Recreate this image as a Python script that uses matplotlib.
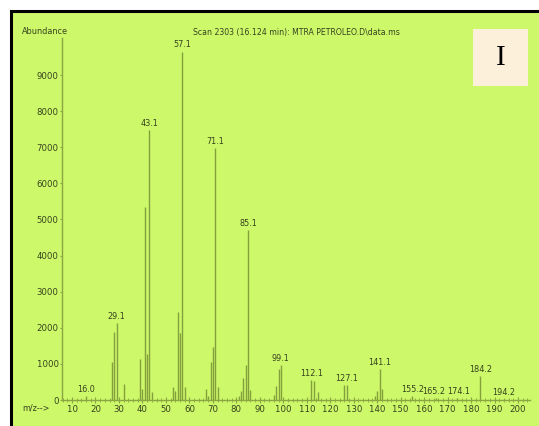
import matplotlib
matplotlib.use("Agg")
import matplotlib.pyplot as plt
from matplotlib import font_manager
from matplotlib.font_manager import FontProperties
from matplotlib.patches import Rectangle
from matplotlib.ticker import MultipleLocator

# Mass spectrum, scan 2303
mz = [16, 27, 28, 29, 32, 39, 40, 41, 42, 43, 44,
      53, 54, 55, 56, 57, 58, 67, 68, 69, 70, 71, 72,
      81, 82, 83, 84, 85, 86, 96, 97, 98, 99,
      112, 113, 115, 126, 127, 139, 140, 141, 142,
      155, 165, 174, 184, 194]
abundance = [100, 1050, 1880, 2130, 440, 1130, 300, 5350, 1270, 7480, 220,
             360, 250, 2450, 1860, 9650, 370, 310, 120, 1060, 1460, 6980, 360,
             120, 250, 600, 970, 4710, 280, 150, 380, 850, 980,
             560, 540, 230, 420, 420, 120, 250, 850, 300,
             120, 50, 50, 660, 20]

peak_labels = ["16.0", "29.1", "43.1", "57.1", "71.1", "85.1", "99.1",
               "112.1", "127.1", "141.1", "155.2", "165.2", "174.1",
               "184.2", "194.2"]
label_mz = [16, 29, 43, 57, 71, 85, 99, 112, 127, 141, 155, 165, 174, 184, 194]

x_ticks = list(range(10, 201, 10))
y_ticks = list(range(0, 9001, 1000))

title = "Scan 2303 (16.124 min): MTRA PETROLEO.D\\data.ms"
panel_tag = "I"


def narrow_font():
    """Return FontProperties for a condensed sans face if one exists."""
    prefs = ["Liberation Sans Narrow", "DejaVu Sans", "Open Sans", "Noto Sans",
             "Roboto"]
    cands = []
    for f in font_manager.fontManager.ttflist:
        nm = f.name
        narrowish = ("Narrow" in nm or "Condensed" in nm or "Cond" in nm
                     or f.stretch in ("condensed", "semi-condensed",
                                      "extra-condensed", "ultra-condensed"))
        if not narrowish or f.style != "normal":
            continue
        if f.weight not in (400, "normal", "regular", "book"):
            continue
        rank = next((i for i, p in enumerate(prefs) if nm.startswith(p)), 99)
        cands.append((rank, f.fname))
    if cands:
        cands.sort()
        return FontProperties(fname=cands[0][1])
    return FontProperties(family="Liberation Sans")


def pick_family(names):
    for n in names:
        try:
            font_manager.findfont(n, fallback_to_default=False)
            return n
        except Exception:
            continue
    return "DejaVu Serif"


base_fp = narrow_font()


def fp(size):
    p = base_fp.copy()
    p.set_size(size)
    return p


serif = pick_family(["Liberation Serif", "DejaVu Serif"])

bg = "#cdf86a"
line_col = "#84a03c"
axis_col = "#8aa641"
text_col = "#36421e"

W, H = 539, 426
fig = plt.figure(figsize=(W / 100, H / 100), dpi=100, facecolor="white")

# green panel with black border (top and left edges visible)
fig.patches.append(Rectangle((10.5 / W, -0.05), 1.2, 1 - 10.5 / H + 0.05,
                             transform=fig.transFigure, facecolor=bg,
                             edgecolor="black", linewidth=2.2, zorder=-10))

left, right = 62 / W, 530 / W
bottom, top = 1 - 400 / H, 1 - 38 / H
ax = fig.add_axes([left, bottom, right - left, top - bottom])
ax.set_zorder(5)
ax.set_facecolor("none")

ax.vlines(mz, 0, abundance, colors=line_col, linewidth=1.0)

# small horizontal nudges (points) for crowded labels
nudge = {"165.2": -1.5, "174.1": 1.5}

y_of = dict(zip(mz, abundance))
for lab, m in zip(peak_labels, label_mz):
    ax.annotate(lab, xy=(m, y_of[m]), xytext=(nudge.get(lab, 0), 1.5),
                textcoords="offset points", ha="center", va="bottom",
                fontproperties=fp(6.5), color=text_col)

ax.set_xlim(5.74, 205.1)
ax.set_ylim(0, 10025)

for s in ("top", "right"):
    ax.spines[s].set_visible(False)
for s in ("left", "bottom"):
    ax.spines[s].set_color(axis_col)
    ax.spines[s].set_linewidth(1.0)

ax.set_xticks(x_ticks)
ax.set_xticklabels([str(v) for v in x_ticks], fontproperties=fp(6.8),
                   color=text_col)
ax.xaxis.set_minor_locator(MultipleLocator(2))
ax.tick_params(axis="x", which="major", direction="inout", length=5,
               color=axis_col, pad=1)
ax.tick_params(axis="x", which="minor", direction="inout", length=3,
               color=axis_col)

ax.set_yticks(y_ticks)
ax.set_yticklabels([str(v) for v in y_ticks], fontproperties=fp(6.8),
                   color=text_col)
ax.tick_params(axis="y", direction="out", length=1.5, color=axis_col, pad=1)

fig.text(22 / W, 1 - 32 / H, "Abundance", fontproperties=fp(6.5),
         color=text_col, ha="left", va="center")
fig.text(22 / W, 1 - 408 / H, "m/z-->", fontproperties=fp(6.5),
         color=text_col, ha="left", va="center")
fig.text(296 / W, 1 - 33 / H, title, fontproperties=fp(6.2),
         color=text_col, ha="center", va="center")

# panel tag box
fig.patches.append(Rectangle((473 / W, 1 - 86 / H), 55 / W, 57 / H,
                             transform=fig.transFigure, facecolor="#fdf0db",
                             edgecolor="none", zorder=1))
fig.text(500.5 / W, 1 - 58 / H, panel_tag, family=serif, fontsize=21,
         color="black", ha="center", va="center", zorder=2)

fig.savefig("out.png", dpi=100, facecolor="white")
